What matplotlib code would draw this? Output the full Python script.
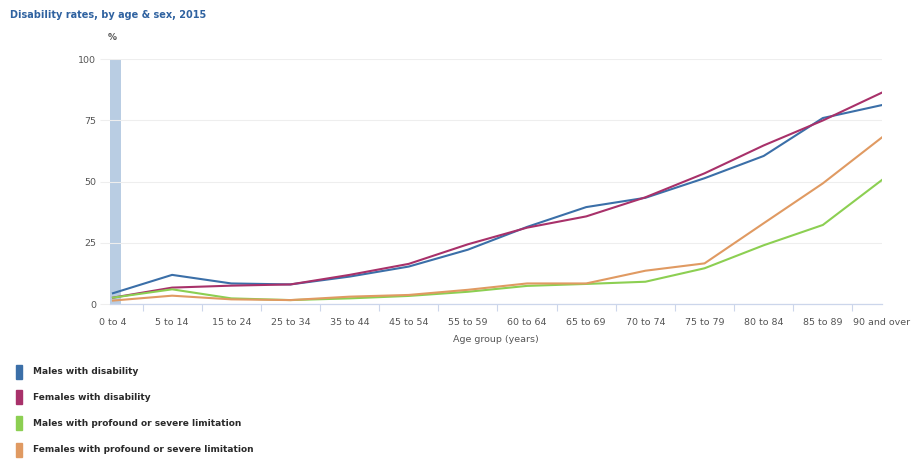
import matplotlib
matplotlib.use("Agg")
import matplotlib.pyplot as plt
from matplotlib.patches import Rectangle

categories = ["0 to 4", "5 to 14", "15 to 24", "25 to 34", "35 to 44", "45 to 54",
              "55 to 59", "60 to 64", "65 to 69", "70 to 74", "75 to 79", "80 to 84",
              "85 to 89", "90 and over"]
males_disability = [4.4, 11.9, 8.4, 8.0, 11.2, 15.3, 22.2, 31.5, 39.6, 43.4, 51.4, 60.5, 76.0, 81.3]
females_disability = [2.6, 6.7, 7.5, 8.0, 11.9, 16.4, 24.4, 31.2, 35.8, 43.6, 53.4, 64.8, 75.0, 86.4]
males_profound = [2.6, 6.0, 2.3, 1.6, 2.3, 3.3, 5.0, 7.4, 8.2, 9.1, 14.6, 24.0, 32.3, 50.7]
females_profound = [1.4, 3.4, 1.9, 1.6, 3.0, 3.7, 5.8, 8.4, 8.4, 13.6, 16.6, 33.0, 49.3, 68.1]
series_names = ["Males with disability", "Females with disability",
                "Males with profound or severe limitation",
                "Females with profound or severe limitation"]
yticks = [0, 25, 50, 75, 100]

colors = ["#3b6fa8", "#a8316a", "#8ccf52", "#e09a62"]
series = [males_disability, females_disability, males_profound, females_profound]

W, H = 912, 459
fig = plt.figure(figsize=(W / 100, H / 100), dpi=100)
fig.patch.set_facecolor("white")

left, right, top, bottom = 110, 882, 59.3, 304
ax = fig.add_axes([left / W, 1 - bottom / H, (right - left) / W, (bottom - top) / H])

x = list(range(len(categories)))
ax.axvspan(-0.05, 0.13, color="#b9cde3", zorder=0, lw=0)
for s, c in zip(series, colors):
    ax.plot(x, s, color=c, lw=1.5, zorder=3, solid_joinstyle="round")

ax.set_xlim(-0.05, len(categories) - 1)
ax.set_ylim(0, 100)
ax.set_yticks(yticks)
ax.set_yticklabels([str(v) for v in yticks])
ax.grid(axis="y", color="#eeeeee", lw=0.8, zorder=0)
ax.set_axisbelow(True)

ax.set_xticks(x)
ax.set_xticklabels(categories)
ax.set_xticks([i + 0.5 for i in range(len(categories) - 1)], minor=True)
ax.tick_params(axis="x", which="major", length=0, labelsize=6.8, labelcolor="#555555", pad=10)
ax.tick_params(axis="x", which="minor", length=5, color="#ccd6eb", width=0.8)
ax.tick_params(axis="y", length=7, color="#eeeeee", labelsize=6.8, labelcolor="#555555", pad=3)

for sp in ["top", "right", "left"]:
    ax.spines[sp].set_visible(False)
ax.spines["bottom"].set_color("#ccd6eb")
ax.spines["bottom"].set_linewidth(0.9)

ax.set_xlabel("Age group (years)", fontsize=6.8, color="#555555", labelpad=6)

fig.text(10 / W, 1 - 15 / H, "Disability rates, by age & sex, 2015", fontsize=7,
         fontweight="bold", color="#2f62a0", va="center", ha="left")
fig.text(108 / W, 1 - 37 / H, "%", fontsize=6.5, fontweight="bold", color="#555555",
         va="center", ha="left")

legend_y = [372, 397, 423, 450]
for name, c, yy in zip(series_names, colors, legend_y):
    fig.patches.append(Rectangle((16 / W, 1 - (yy + 7) / H), 6 / W, 14 / H,
                                 transform=fig.transFigure, color=c, figure=fig))
    fig.text(33 / W, 1 - yy / H, name, fontsize=6.5, fontweight="bold", color="#2a2a2a",
             va="center", ha="left")

fig.savefig("out.png", dpi=100, facecolor="white")
